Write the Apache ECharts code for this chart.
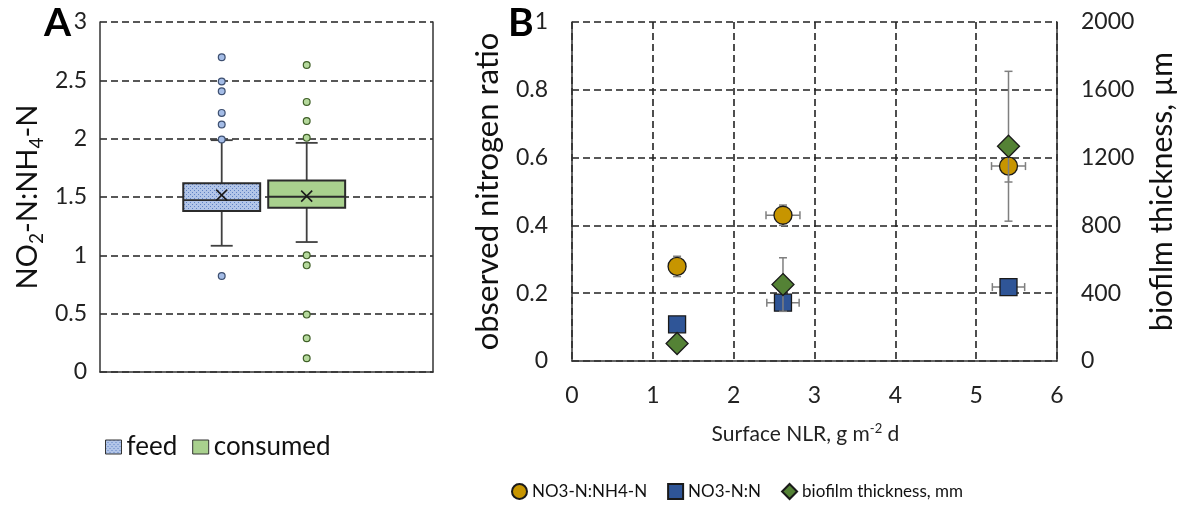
<!DOCTYPE html>
<html><head><meta charset="utf-8">
<script src="https://cdn.jsdelivr.net/npm/echarts@6/dist/echarts.min.js"></script>
<style>html,body{margin:0;padding:0;background:#fff}#c{width:1181px;height:505px}</style>
</head><body><div id="c"></div>
<script>
// ---------- Panel A data (NO2-N:NH4-N box plots) ----------
const boxNames = ['feed', 'consumed'];
// lower whisker, Q1, median, Q3, upper whisker
const feedBox = [1.082, 1.379, 1.473, 1.617, 1.987];
const feedMean = 1.516;
const feedOutliers = [2.698, 2.49, 2.407, 2.221, 2.122, 1.993, 0.823];
const consumedBox = [1.114, 1.408, 1.502, 1.642, 1.964];
const consumedMean = 1.507;
const consumedOutliers = [2.632, 2.315, 2.152, 2.007, 1.0, 0.914, 0.492, 0.289, 0.118];

// ---------- Panel B data ----------
const seriesNamesB = ['NO3-N:NH4-N', 'NO3-N:N', 'biofilm thickness, mm'];
const nlr = [1.30, 2.61, 5.40];
const no3nh4 = [0.279, 0.430, 0.575];
const no3nh4XErr = [0, 0.21, 0.21];
const no3nh4Err = [0.03, 0.03, 0.047];
const no3n = [0.108, 0.172, 0.218];
const no3nXErr = [0, 0.2, 0.2];
const no3nErr = [0, 0.02, 0];
const thickness = [103, 451, 1267];
const thicknessXErr = [0, 0, 0];
const thicknessErr = [0, 158, 442];

const FONT = 'Lato';
function makePattern() {
  const c = document.createElement('canvas'); c.width = 4; c.height = 4;
  const g = c.getContext('2d');
  g.fillStyle = '#b2c5e8'; g.fillRect(0, 0, 4, 4);
  g.fillStyle = '#5f82c4'; g.fillRect(0, 0, 1, 1); g.fillRect(2, 2, 1, 1);
  return c;
}
const feedFill = { image: makePattern(), repeat: 'repeat' };
const consumedFill = '#a9d18e';

const boxStyle = {
  feed: { fill: feedFill, off: -0.1345, outFill: '#a4bce6', outStroke: '#3d4f70' },
  consumed: { fill: consumedFill, off: 0.1207, outFill: '#b5d99c', outStroke: '#3f5f28' }
};

function boxRender(st) {
  return function (params, api) {
    const band = api.size([1, 0])[0];
    const cx = api.coord([0, 0])[0] + st.off * band;
    const y = i => api.coord([0, api.value(i)])[1];
    const yLo = y(1), yQ1 = y(2), yMed = y(3), yQ3 = y(4), yHi = y(5), yMean = y(6);
    const bw = band * 0.231, cap = band * 0.066, xs = 5.5;
    const ln = (x1, y1, x2, y2, c, w) => ({ type: 'line', shape: { x1, y1, x2, y2 }, style: { stroke: c, lineWidth: w } });
    return {
      type: 'group', children: [
        ln(cx, yQ3, cx, yHi, '#404040', 1.8),
        ln(cx, yQ1, cx, yLo, '#404040', 1.8),
        ln(cx - cap / 2, yHi, cx + cap / 2, yHi, '#404040', 1.8),
        ln(cx - cap / 2, yLo, cx + cap / 2, yLo, '#404040', 1.8),
        { type: 'rect', shape: { x: cx - bw / 2, y: yQ3, width: bw, height: yQ1 - yQ3 }, style: { fill: st.fill, stroke: '#2b2b2b', lineWidth: 2 } },
        ln(cx - bw / 2, yMed, cx + bw / 2, yMed, '#2b2b2b', 1.8),
        ln(cx - xs, yMean - xs, cx + xs, yMean + xs, '#1a1a1a', 1.6),
        ln(cx - xs, yMean + xs, cx + xs, yMean - xs, '#1a1a1a', 1.6)
      ]
    };
  };
}
function outlierRender(st) {
  return function (params, api) {
    const band = api.size([1, 0])[0];
    const p = api.coord([0, api.value(1)]);
    return { type: 'circle', shape: { cx: p[0] + st.off * band, cy: p[1], r: 3.4 }, style: { fill: st.outFill, stroke: st.outStroke, lineWidth: 1.2 } };
  };
}
function errRender(params, api) {
  const x = api.value(0), yv = api.value(1), ex = api.value(2), ey = api.value(3);
  const c = '#7f7f7f', w = 1.5, h = 4;
  const kids = [];
  const ln = (x1, y1, x2, y2) => ({ type: 'line', shape: { x1, y1, x2, y2 }, style: { stroke: c, lineWidth: w } });
  if (ex > 0) {
    const a = api.coord([x - ex, yv]), b = api.coord([x + ex, yv]);
    kids.push(ln(a[0], a[1], b[0], b[1]), ln(a[0], a[1] - h, a[0], a[1] + h), ln(b[0], b[1] - h, b[0], b[1] + h));
  }
  if (ey > 0) {
    const a = api.coord([x, yv - ey]), b = api.coord([x, yv + ey]);
    kids.push(ln(a[0], a[1], b[0], b[1]), ln(a[0] - h, a[1], a[0] + h, a[1]), ln(b[0] - h, b[1], b[0] + h, b[1]));
  }
  return { type: 'group', children: kids };
}
const rows = (ys, xErr, yErr) => nlr.map((x, i) => [x, ys[i], xErr[i], yErr[i]]);

const dash = { type: [7, 4], color: '#222', width: 1.6 };
const axisLineStyle = { show: true, lineStyle: { color: '#333', width: 1.5 } };
const tickFont = { fontFamily: FONT, fontSize: 23, color: '#222' };

const option = {
  animation: false,
  backgroundColor: '#fff',
  textStyle: { fontFamily: FONT },
  grid: [
    { left: 100, top: 22, width: 333, height: 350 },
    { left: 572, top: 22, width: 485, height: 339 }
  ],
  xAxis: [
    { gridIndex: 0, type: 'category', data: [''], axisLine: axisLineStyle, axisTick: { show: false }, axisLabel: { show: false }, splitLine: { show: false } },
    { gridIndex: 1, type: 'value', min: 0, max: 6, interval: 1, axisLine: axisLineStyle, axisTick: { show: false },
      axisLabel: Object.assign({ margin: 23 }, tickFont), splitLine: { show: true, lineStyle: dash },
      name: 'Surface NLR, g m{sup|-2} d', nameLocation: 'middle', nameGap: 61,
      nameTextStyle: { fontFamily: FONT, fontSize: 21, color: '#222', padding: [0, 18, 0, 0], rich: { sup: { fontFamily: FONT, fontSize: 13, verticalAlign: 'top', lineHeight: 24 } } } }
  ],
  yAxis: [
    { gridIndex: 0, type: 'value', min: 0, max: 3, interval: 0.5, axisLine: axisLineStyle, axisTick: { show: false },
      axisLabel: Object.assign({ margin: 13 }, tickFont), splitLine: { show: true, lineStyle: dash },
      name: '{n|NO}{s|2}{n|-N:NH}{s|4}{n|-N}', nameLocation: 'middle', nameRotate: 90, nameGap: 54,
      nameTextStyle: { color: '#111', rich: { n: { fontFamily: FONT, fontSize: 29, lineHeight: 36, color: '#111' }, s: { fontFamily: FONT, fontSize: 19, lineHeight: 36, verticalAlign: 'bottom', color: '#111' } } } },
    { gridIndex: 0, type: 'value', position: 'right', min: 0, max: 3, interval: 0.5, axisLine: axisLineStyle, axisTick: { show: false }, axisLabel: { show: false }, splitLine: { show: false } },
    { gridIndex: 1, type: 'value', min: 0, max: 1, interval: 0.2, axisLine: axisLineStyle, axisTick: { show: false },
      axisLabel: Object.assign({ margin: 24 }, tickFont), splitLine: { show: true, lineStyle: dash },
      name: 'observed nitrogen ratio', nameLocation: 'middle', nameRotate: 90, nameGap: 69,
      nameTextStyle: { fontFamily: FONT, fontSize: 31, color: '#111' } },
    { gridIndex: 1, type: 'value', position: 'right', min: 0, max: 2000, interval: 400, axisLine: axisLineStyle, axisTick: { show: false },
      axisLabel: Object.assign({ margin: 24, formatter: v => String(v) }, tickFont), splitLine: { show: false },
      name: 'biofilm thickness, µm', nameLocation: 'middle', nameRotate: 90, nameGap: 90,
      nameTextStyle: { fontFamily: FONT, fontSize: 30, color: '#111' } }
  ],
  legend: [
    { left: 105, top: 434, padding: 0, itemWidth: 16, itemHeight: 14, itemGap: 15, textStyle: { fontFamily: FONT, fontSize: 26, color: '#111' },
      data: [
        { name: 'feed', icon: 'rect', itemStyle: { color: feedFill, borderColor: '#333', borderWidth: 1 } },
        { name: 'consumed', icon: 'rect', itemStyle: { color: consumedFill, borderColor: '#333', borderWidth: 1 } }
      ] },
    { left: 511, top: 483, padding: 0, itemWidth: 15, itemHeight: 15, itemGap: 20, textStyle: { fontFamily: FONT, fontSize: 17, color: '#111' },
      data: seriesNamesB }
  ],
  series: [
    { name: 'feed', type: 'custom', xAxisIndex: 0, yAxisIndex: 0, renderItem: boxRender(boxStyle.feed), encode: { x: 0, y: [1, 2, 3, 4, 5] },
      data: [[0].concat(feedBox, [feedMean])], z: 3 },
    { name: 'consumed', type: 'custom', xAxisIndex: 0, yAxisIndex: 0, renderItem: boxRender(boxStyle.consumed), encode: { x: 0, y: [1, 2, 3, 4, 5] },
      data: [[0].concat(consumedBox, [consumedMean])], z: 3 },
    { name: 'feed outliers', type: 'custom', xAxisIndex: 0, yAxisIndex: 0, renderItem: outlierRender(boxStyle.feed), encode: { x: 0, y: 1 },
      data: feedOutliers.map(v => [0, v]), z: 4 },
    { name: 'consumed outliers', type: 'custom', xAxisIndex: 0, yAxisIndex: 0, renderItem: outlierRender(boxStyle.consumed), encode: { x: 0, y: 1 },
      data: consumedOutliers.map(v => [0, v]), z: 4 },

    { name: 'err1', type: 'custom', xAxisIndex: 1, yAxisIndex: 2, renderItem: errRender, encode: { x: 0, y: 1 }, data: rows(no3nh4, no3nh4XErr, no3nh4Err), z: 3 },
    { name: seriesNamesB[0], type: 'scatter', xAxisIndex: 1, yAxisIndex: 2, symbol: 'circle', symbolSize: 18,
      itemStyle: { color: '#c79500', borderColor: '#1a1a1a', borderWidth: 1.3, opacity: 1 }, data: nlr.map((x, i) => [x, no3nh4[i]]), z: 4 },
    { name: 'err2', type: 'custom', xAxisIndex: 1, yAxisIndex: 2, renderItem: errRender, encode: { x: 0, y: 1 }, data: rows(no3n, no3nXErr, no3nErr), z: 5 },
    { name: seriesNamesB[1], type: 'scatter', xAxisIndex: 1, yAxisIndex: 2, symbol: 'rect', symbolSize: 17,
      itemStyle: { color: '#2f5597', borderColor: '#1a1a1a', borderWidth: 1.3, opacity: 1 }, data: nlr.map((x, i) => [x, no3n[i]]), z: 6 },
    { name: 'err3', type: 'custom', xAxisIndex: 1, yAxisIndex: 3, renderItem: errRender, encode: { x: 0, y: 1 }, data: rows(thickness, thicknessXErr, thicknessErr), z: 7 },
    { name: seriesNamesB[2], type: 'scatter', xAxisIndex: 1, yAxisIndex: 3, symbol: 'diamond', symbolSize: 22,
      itemStyle: { color: '#548235', borderColor: '#1a1a1a', borderWidth: 1.3, opacity: 1 }, data: nlr.map((x, i) => [x, thickness[i]]), z: 8 }
  ],
  graphic: [
    { type: 'text', left: 44, top: 4, style: { text: 'A', fontFamily: FONT, fontWeight: 'bold', fontSize: 39, fill: '#000' } },
    { type: 'text', left: 508, top: 4, style: { text: 'B', fontFamily: FONT, fontWeight: 'bold', fontSize: 39, fill: '#000' } }
  ]
};
const chart = echarts.init(document.getElementById('c'), null, { renderer: 'canvas' });
chart.setOption(option);
</script>
</body></html>
